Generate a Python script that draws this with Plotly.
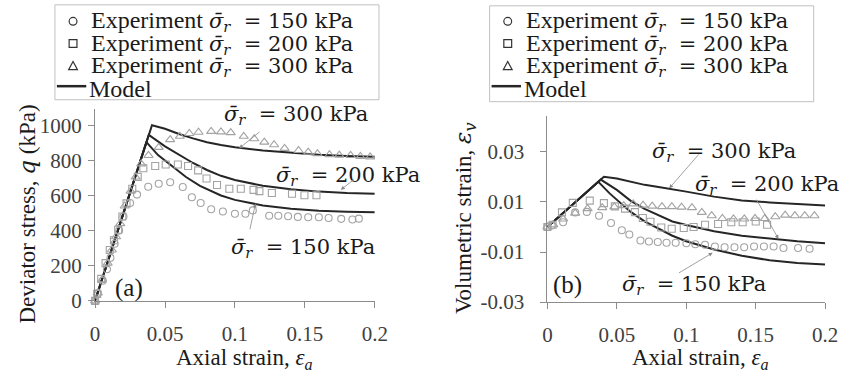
import plotly.graph_objects as go

W, H = 859, 379

# ---------------- Panel (a): deviator stress q (kPa) vs axial strain ----------------
exp150_ea = [0, 0.002, 0.0055, 0.0085, 0.011, 0.014, 0.0172, 0.0203, 0.025, 0.030, 0.038, 0.0455,
             0.0537, 0.0627, 0.0692, 0.0755, 0.083, 0.0914, 0.100, 0.1075, 0.1128, 0.1245, 0.131,
             0.138, 0.145, 0.1524, 0.160, 0.167, 0.176, 0.184, 0.1886]
exp150_q = [0, 45, 115, 180, 245, 325, 400, 480, 557, 605, 650, 667, 675, 648, 590, 557, 522, 509,
            496, 496, 515, 485, 485, 482, 478, 476, 476, 472, 467, 463, 468]

exp200_ea = [0, 0.0015, 0.0044, 0.0075, 0.0105, 0.0135, 0.0165, 0.0195, 0.0225, 0.0266, 0.0305,
             0.0345, 0.043, 0.0505, 0.0592, 0.0665, 0.0737, 0.0797, 0.0872, 0.096, 0.1042, 0.1133,
             0.1175, 0.1264, 0.1408, 0.1497, 0.1583]
exp200_q = [0, 40, 125, 215, 290, 345, 405, 480, 555, 638, 706, 755, 768, 776, 776, 768, 743, 697,
            660, 638, 638, 632, 625, 614, 610, 601, 601]

exp300_ea = [0, 0.002, 0.005, 0.009, 0.012, 0.015, 0.018, 0.0212, 0.0254, 0.029, 0.033, 0.0382,
             0.0455, 0.0537, 0.0606, 0.0674, 0.0740, 0.0830, 0.0900, 0.0970, 0.1063, 0.1138, 0.121,
             0.128, 0.1355, 0.1455, 0.1524, 0.159, 0.1676, 0.1746, 0.1827, 0.1897, 0.1967]
exp300_q = [0, 45, 120, 215, 290, 365, 440, 540, 625, 705, 780, 828, 874, 918, 937, 953, 960, 965,
            962, 958, 937, 923, 904, 889, 868, 856, 847, 838, 832, 830, 828, 822, 820]

mod150_ea = [0, 0.0367, 0.045, 0.055, 0.065, 0.075, 0.09, 0.1, 0.12, 0.14, 0.16, 0.18, 0.2]
mod150_q = [0, 904, 830, 765, 705, 655, 600, 575, 543, 524, 513, 508, 505]
mod200_ea = [0, 0.0384, 0.05, 0.06, 0.07, 0.08, 0.09, 0.1, 0.12, 0.14, 0.16, 0.18, 0.2]
mod200_q = [0, 945, 880, 830, 785, 745, 712, 688, 655, 635, 622, 614, 610]
mod300_ea = [0, 0.0407, 0.05, 0.06, 0.07, 0.08, 0.09, 0.1, 0.12, 0.14, 0.16, 0.18, 0.2]
mod300_q = [0, 1000, 980, 950, 925, 903, 887, 875, 856, 842, 832, 825, 821]

# ---------------- Panel (b): volumetric strain vs axial strain ----------------
vexp150_ea = [0, 0.003, 0.0113, 0.02, 0.0284, 0.0372, 0.0458, 0.0536, 0.059, 0.067, 0.0731, 0.0795,
              0.0858, 0.0924, 0.1001, 0.1065, 0.1135, 0.1206, 0.1276, 0.1347, 0.1417, 0.1488,
              0.1559, 0.1629, 0.17, 0.1805, 0.1888]
vexp150_ev = [0, 0.0006, 0.0019, 0.0058, 0.006, 0.0045, 0.0016, -0.0013, -0.003, -0.0054, -0.0058,
              -0.006, -0.0063, -0.0063, -0.0065, -0.0069, -0.0071, -0.0078, -0.0081, -0.0081,
              -0.0081, -0.0078, -0.0078, -0.0078, -0.0084, -0.0084, -0.0087]

vexp200_ea = [0, 0.0037, 0.0105, 0.0183, 0.0305, 0.0407, 0.0486, 0.0559, 0.063, 0.0687, 0.0742,
              0.082, 0.0895, 0.0982, 0.1053, 0.1135, 0.1229, 0.1324, 0.1406, 0.15, 0.1582]
vexp200_ev = [0, 0.0009, 0.0058, 0.0096, 0.0105, 0.0095, 0.0082, 0.0073, 0.0059, 0.0036, 0.0021,
              -0.0002, -0.0007, -0.0004, 0, 0.0009, 0.0012, 0.0019, 0.0019, 0.0022, 0.0009]

vexp300_ea = [0, 0.0042, 0.0113, 0.02, 0.0289, 0.0395, 0.0482, 0.055, 0.0618, 0.0689, 0.0755,
              0.0825, 0.0896, 0.0966, 0.1041, 0.1112, 0.1183, 0.126, 0.134, 0.1418, 0.1495,
              0.1566, 0.1641, 0.1712, 0.1782, 0.1853, 0.1923]
vexp300_ev = [0, 0.0009, 0.0032, 0.0055, 0.0073, 0.0077, 0.008, 0.0085, 0.0092, 0.0087, 0.0083,
              0.0081, 0.0081, 0.0079, 0.0077, 0.0058, 0.0045, 0.0034, 0.0032, 0.0032, 0.0034,
              0.0034, 0.0041, 0.0047, 0.0045, 0.0045, 0.0045]

vmod150_ea = [0, 0.0367, 0.045, 0.05, 0.06, 0.07, 0.08, 0.09, 0.1, 0.12, 0.14, 0.16, 0.18, 0.2]
vmod150_ev = [0, 0.018, 0.0133, 0.0108, 0.006, 0.0022, -0.0008, -0.0035, -0.0057, -0.009, -0.0115,
              -0.0133, -0.0144, -0.015]
vmod200_ea = [0, 0.0384, 0.05, 0.06, 0.07, 0.08, 0.09, 0.1, 0.12, 0.14, 0.16, 0.18, 0.2]
vmod200_ev = [0, 0.0189, 0.0148, 0.0104, 0.0072, 0.0046, 0.0022, 0.0008, -0.0017, -0.0035, -0.0047,
              -0.0057, -0.0065]
vmod300_ea = [0, 0.0407, 0.05, 0.06, 0.07, 0.08, 0.09, 0.1, 0.12, 0.14, 0.16, 0.18, 0.2]
vmod300_ev = [0, 0.020, 0.0193, 0.018, 0.0168, 0.0159, 0.0151, 0.0141, 0.0121, 0.0106, 0.0098,
              0.0091, 0.0086]

# axis ticks
x_ticks = [0, 0.05, 0.1, 0.15, 0.2]
x_ticktext = ["0", "0.05", "0.1", "0.15", "0.2"]
q_ticks = [0, 200, 400, 600, 800, 1000]
ev_ticks = [-0.03, -0.01, 0.01, 0.03]
ev_ticktext = ["-0.03", "-0.01", "0.01", "0.03"]

confining = ["150", "200", "300"]

SERIF = "Liberation Serif"
MATH = "DejaVu Serif"
GRAY = "#a3a3a3"
DARK = "#262626"
AXIS = "#8c8c8c"
TICKTXT = "#404040"
ARROW = "#8a8a8a"
TXT = "#1a1a1a"


def px(x):
    return x / W


def py(y):
    return 1 - y / H


def math(s, size=None):
    style = "font-family:%s" % MATH
    if size:
        style += ";font-size:%dpx" % size
    return '<span style="%s">%s</span>' % (style, s)


def sigma_eq(p, gap_before, gap_after, size=None):
    return math("<i>σ̄</i><sub><i>r</i></sub>" + "\u00a0" * gap_before + "=" + "\u00a0" * gap_after
                + p + " kPa", size)


legend_labels = ["Experiment " + sigma_eq(p, 2, 1, 21) for p in confining] + ["Model"]

fig = go.Figure()


def add_exp(x, y, symbol, size, xa, ya):
    fig.add_trace(go.Scatter(
        x=x, y=y, mode="markers", xaxis=xa, yaxis=ya, cliponaxis=False, showlegend=False,
        marker=dict(symbol=symbol, size=size, color=GRAY, line=dict(color=GRAY, width=1.1)),
    ))


def add_model(x, y, xa, ya):
    fig.add_trace(go.Scatter(
        x=x, y=y, mode="lines", xaxis=xa, yaxis=ya, showlegend=False,
        line=dict(color=DARK, width=2),
    ))


# panel (a)
add_model(mod150_ea, mod150_q, "x", "y")
add_model(mod200_ea, mod200_q, "x", "y")
add_model(mod300_ea, mod300_q, "x", "y")
add_exp(exp150_ea, exp150_q, "circle-open", 7, "x", "y")
add_exp(exp200_ea, exp200_q, "square-open", 7, "x", "y")
add_exp(exp300_ea, exp300_q, "triangle-up-open", 8, "x", "y")

# panel (b)
add_model(vmod150_ea, vmod150_ev, "x2", "y2")
add_model(vmod200_ea, vmod200_ev, "x2", "y2")
add_model(vmod300_ea, vmod300_ev, "x2", "y2")
add_exp(vexp150_ea, vexp150_ev, "circle-open", 7, "x2", "y2")
add_exp(vexp200_ea, vexp200_ev, "square-open", 7, "x2", "y2")
add_exp(vexp300_ea, vexp300_ev, "triangle-up-open", 8, "x2", "y2")

axis_common = dict(
    showline=True, linecolor=AXIS, linewidth=1, showgrid=False, zeroline=False,
    ticks="outside", ticklen=6, tickcolor=AXIS, tickwidth=1,
    tickfont=dict(family=SERIF, size=21, color=TICKTXT), fixedrange=True,
)

fig.update_layout(
    width=W, height=H, margin=dict(l=0, r=0, t=0, b=0),
    paper_bgcolor="white", plot_bgcolor="white", showlegend=False,
    font=dict(family=SERIF),
    xaxis=dict(axis_common, domain=[px(92), px(377.7)], range=[0, 0.2], anchor="y",
               tickmode="array", tickvals=x_ticks, ticktext=x_ticktext, ticklabelstandoff=8),
    yaxis=dict(axis_common, domain=[py(310.7), py(113)], range=[0, 1090], anchor="x",
               tickmode="array", tickvals=q_ticks, ticktext=[str(v) for v in q_ticks],
               ticklabelstandoff=2),
    xaxis2=dict(axis_common, domain=[px(554), px(837.7)], range=[0, 0.2], anchor="y2",
                tickmode="array", tickvals=x_ticks, ticktext=x_ticktext, ticklabelstandoff=8),
    yaxis2=dict(axis_common, domain=[py(312), py(120)], range=[-0.03, 0.0442], anchor="x2",
                tickmode="array", tickvals=ev_ticks, ticktext=ev_ticktext, ticklabelstandoff=12),
)

ann = []
CENTER = dict(xanchor="center", yanchor="middle", showarrow=False)

# axis titles (the x titles use a plain-font epsilon so the text box hugs the glyphs)
TITLE_FONT = dict(family=SERIF, size=23, color=TXT)
ann.append(dict(CENTER, x=px(22), y=py(221), xref="paper", yref="paper", textangle=-90,
                text="Deviator stress, " + math("<i>q</i>") + " (kPa)", font=TITLE_FONT))
ann.append(dict(CENTER, x=px(470), y=py(225), xref="paper", yref="paper", textangle=-90,
                text="Volumetric strain, " + math("<i>ε</i><sub><i>v</i></sub>"), font=TITLE_FONT))
ann.append(dict(CENTER, x=px(245), y=py(366), xref="paper", yref="paper", yshift=-5,
                text="Axial strain, <i>ε</i><sub><i>a</i></sub>", font=TITLE_FONT))
ann.append(dict(CENTER, x=px(710), y=py(366), xref="paper", yref="paper", yshift=-5,
                text="Axial strain, <i>ε</i><sub><i>a</i></sub>", font=TITLE_FONT))

# curve labels with leader arrows
LABEL_FONT = dict(family=MATH, size=21, color=TXT)

labels_a = [("300", 0.1434, 1056), ("200", 0.181, 712), ("150", 0.149, 300)]
arrows_a = [((0.1187, 969), (0.103, 868)), ((0.1862, 698), (0.1757, 632)),
            ((0.1105, 399), (0.1147, 555))]
labels_b = [("300", 0.127, 0.0301), ("200", 0.158, 0.0166), ("150", 0.1058, -0.0232)]
arrows_b = [((0.11, 0.0296), (0.0877, 0.0154)), ((0.15, 0.0115), (0.1664, -0.0048)),
            ((0.0936, -0.0187), (0.119, -0.0103))]

for (p, x, y) in labels_a:
    ann.append(dict(CENTER, x=x, y=y, xref="x", yref="y", text=sigma_eq(p, 2, 1), font=LABEL_FONT))
for (p, x, y) in labels_b:
    ann.append(dict(CENTER, x=x, y=y, xref="x2", yref="y2", text=sigma_eq(p, 2, 1), font=LABEL_FONT))
for (tail, head), (xr, yr) in [(a, ("x", "y")) for a in arrows_a] + [(a, ("x2", "y2")) for a in arrows_b]:
    ann.append(dict(x=head[0], y=head[1], ax=tail[0], ay=tail[1], xref=xr, yref=yr, axref=xr, ayref=yr,
                    text="", showarrow=True, arrowhead=2, arrowsize=1, arrowwidth=0.8, arrowcolor=ARROW))

ann.append(dict(CENTER, x=0.0245, y=75, xref="x", yref="y", text="(a)",
                font=dict(family=SERIF, size=25, color=TXT)))
ann.append(dict(CENTER, x=0.0148, y=-0.0232, xref="x2", yref="y2", text="(b)",
                font=dict(family=SERIF, size=25, color=TXT)))

# legend boxes (one per panel)
shapes = []
LEG_FONT = dict(family=SERIF, size=24, color=TXT)
row_y = [22, 45, 68, 92]
for box_left, box_right, box_top, box_bot in [(51, 382, 5, 103), (495, 826, 6, 105)]:
    shapes.append(dict(type="rect", xref="paper", yref="paper", x0=px(box_left), x1=px(box_right),
                       y0=py(box_bot), y1=py(box_top), line=dict(color="#c0c0c0", width=1),
                       fillcolor="white", layer="above"))
    mx = box_left + 18.5
    r = 4
    shapes.append(dict(type="circle", xref="paper", yref="paper", x0=px(mx - r), x1=px(mx + r),
                       y0=py(row_y[0] + r), y1=py(row_y[0] - r), line=dict(color="#333333", width=1.2)))
    shapes.append(dict(type="rect", xref="paper", yref="paper", x0=px(mx - r), x1=px(mx + r),
                       y0=py(row_y[1] + r), y1=py(row_y[1] - r), line=dict(color="#333333", width=1.2)))
    tri = "M {:.5f} {:.5f} L {:.5f} {:.5f} L {:.5f} {:.5f} Z".format(
        px(mx - 4.5), py(row_y[2] + 4), px(mx + 4.5), py(row_y[2] + 4), px(mx), py(row_y[2] - 4.5))
    shapes.append(dict(type="path", xref="paper", yref="paper", path=tri,
                       line=dict(color="#333333", width=1.2)))
    shapes.append(dict(type="line", xref="paper", yref="paper", x0=px(box_left + 2), x1=px(box_left + 32),
                       y0=py(row_y[3] - 3), y1=py(row_y[3] - 3), line=dict(color=DARK, width=2.5)))
    for i, lab in enumerate(legend_labels):
        tx = box_left + (35 if i < 3 else 33)
        ann.append(dict(x=px(tx), y=py(row_y[i]), xref="paper", yref="paper", xanchor="left",
                        yanchor="middle", text=lab, showarrow=False, font=LEG_FONT))

fig.update_layout(annotations=ann, shapes=shapes)

fig.write_html("out.html")
